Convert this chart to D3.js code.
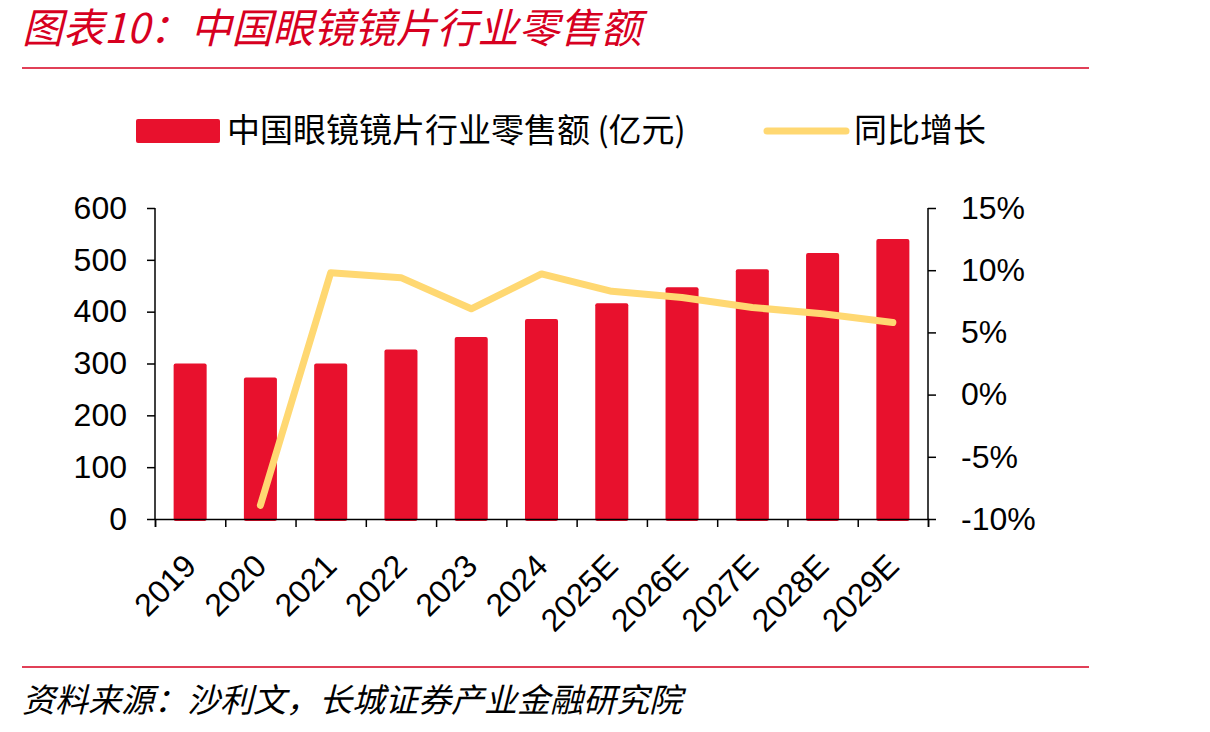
<!DOCTYPE html>
<html>
<head>
<meta charset="utf-8">
<script src="https://cdn.jsdelivr.net/npm/d3@7"></script>
<style>
  body { margin: 0; background: #fff; }
  svg text { font-family: "Noto Sans CJK SC", "DejaVu Sans", sans-serif; }
</style>
</head>
<body>
<div id="chart"></div>
<script>
// chart data
var years = ["2019", "2020", "2021", "2022", "2023", "2024", "2025E", "2026E", "2027E", "2028E", "2029E"];
var retail = [300, 273, 300, 327, 351, 386, 416, 447, 482, 513, 540];
var growth = [null, -8.9, 9.8, 9.4, 6.9, 9.7, 8.3, 7.8, 7.0, 6.5, 5.8];
var leftTicks = [0, 100, 200, 300, 400, 500, 600];
var rightTicks = [-10, -5, 0, 5, 10, 15];

var svgWidth = 1210, svgHeight = 732;
var redTitle = "#d7001f";
var barColor = "#e8112d";
var lineColor = "#ffd872";
var numFont = "'Liberation Sans', Arial, sans-serif";

var svg = d3.select("#chart")
  .append("svg")
  .attr("width", svgWidth)
  .attr("height", svgHeight);

// title + rules
svg.append("text")
  .attr("x", 22)
  .attr("y", 43)
  .attr("fill", redTitle)
  .attr("font-size", 41)
  .attr("font-style", "italic")
  .text("图表10：中国眼镜镜片行业零售额");

svg.append("line")
  .attr("x1", 22).attr("x2", 1089)
  .attr("y1", 68).attr("y2", 68)
  .attr("stroke", redTitle).attr("stroke-width", 1.5);

svg.append("line")
  .attr("x1", 22).attr("x2", 1089)
  .attr("y1", 667).attr("y2", 667)
  .attr("stroke", redTitle).attr("stroke-width", 1.5);

svg.append("text")
  .attr("x", 22)
  .attr("y", 712)
  .attr("fill", "#000")
  .attr("font-size", 33)
  .attr("font-style", "italic")
  .text("资料来源：沙利文，长城证券产业金融研究院");

// plot area
var plotLeft = 155, plotRight = 928, plotTop = 208, plotBottom = 519;

var x = d3.scaleBand()
  .domain(years)
  .range([plotLeft, plotRight])
  .paddingInner(0.53)
  .paddingOuter(0.265);

var yL = d3.scaleLinear().domain([0, 600]).range([plotBottom, plotTop]);
var yR = d3.scaleLinear().domain([-10, 15]).range([plotBottom, plotTop]);

// bars
svg.append("g")
  .selectAll("rect")
  .data(retail)
  .enter()
  .append("rect")
  .attr("x", (d, i) => x(years[i]))
  .attr("y", d => yL(d))
  .attr("width", x.bandwidth())
  .attr("height", d => yL(0) - yL(d) + 2)
  .attr("rx", 2)
  .attr("fill", barColor);

// axes
var leftAxis = d3.axisLeft(yL).tickValues(leftTicks).tickSize(8).tickPadding(20);
var rightAxis = d3.axisRight(yR).tickValues(rightTicks).tickSize(8).tickPadding(25)
  .tickFormat(d => d + "%");
var bottomAxis = d3.axisBottom(d3.scalePoint().domain(d3.range(12)).range([plotLeft, plotRight]))
  .tickSize(8).tickFormat("");

var gl = svg.append("g").attr("transform", `translate(${plotLeft},0)`).call(leftAxis);
var gr = svg.append("g").attr("transform", `translate(${plotRight},0)`).call(rightAxis);
var gb = svg.append("g").attr("transform", `translate(0,${plotBottom})`).call(bottomAxis);

[gl, gr, gb].forEach(function(g) {
  g.select(".domain").attr("stroke", "#000").attr("stroke-width", 1.5);
  g.selectAll(".tick line").attr("stroke", "#000").attr("stroke-width", 1.5);
  g.selectAll("text")
    .attr("font-size", 32)
    .attr("fill", "#000")
    .style("font-family", numFont);
});
gl.select(".domain").attr("d", `M0,${plotTop}V${plotBottom}`);
gr.select(".domain").attr("d", `M0,${plotTop}V${plotBottom}`);

// category labels
svg.append("g")
  .selectAll("text")
  .data(years)
  .enter()
  .append("text")
  .attr("transform", d => `translate(${x(d) + x.bandwidth() / 2 + 8},${plotBottom + 49}) rotate(-45)`)
  .attr("text-anchor", "end")
  .attr("font-size", 32)
  .attr("fill", "#000")
  .style("font-family", numFont)
  .text(d => d);

// growth line
var line = d3.line()
  .defined(d => d != null)
  .x((d, i) => x(years[i]) + x.bandwidth() / 2)
  .y(d => yR(d));

svg.append("path")
  .datum(growth)
  .attr("d", line)
  .attr("fill", "none")
  .attr("stroke", lineColor)
  .attr("stroke-width", 7)
  .attr("stroke-linecap", "round")
  .attr("stroke-linejoin", "round");

// legend
svg.append("rect")
  .attr("x", 136).attr("y", 119)
  .attr("width", 84).attr("height", 24)
  .attr("rx", 2)
  .attr("fill", barColor);

svg.append("text")
  .attr("x", 227).attr("y", 142)
  .attr("font-size", 33)
  .attr("fill", "#000")
  .text("中国眼镜镜片行业零售额 (亿元)");

svg.append("line")
  .attr("x1", 767).attr("x2", 846)
  .attr("y1", 131).attr("y2", 131)
  .attr("stroke", lineColor)
  .attr("stroke-width", 7)
  .attr("stroke-linecap", "round");

svg.append("text")
  .attr("x", 854).attr("y", 142)
  .attr("font-size", 33)
  .attr("fill", "#000")
  .text("同比增长");
</script>
</body>
</html>
